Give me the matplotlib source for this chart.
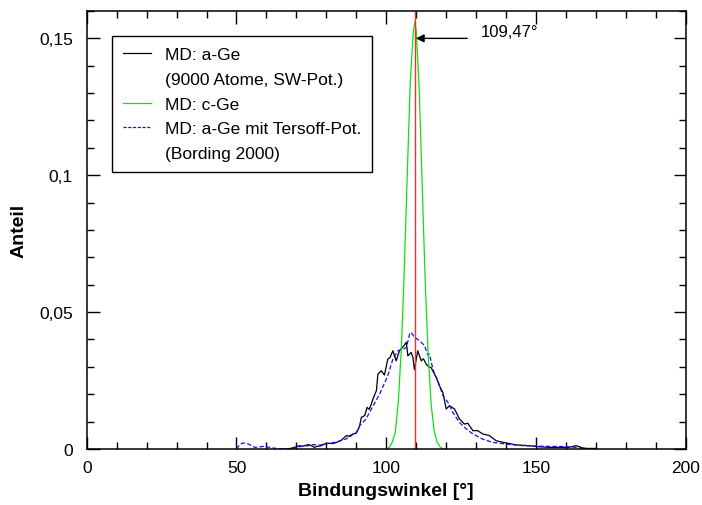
import matplotlib
matplotlib.use('Agg')
import matplotlib.pyplot as plt
from matplotlib.lines import Line2D
from matplotlib.ticker import FixedLocator, MultipleLocator

plt.rcParams['font.family'] = ['Liberation Sans', 'DejaVu Sans']

# bond angle distributions
age_x = [66, 68, 70, 71, 72, 74, 75, 76, 77, 78, 80, 82, 83, 85, 86.7, 88, 89, 90,
         91, 91.7, 92.8, 93.6, 94.3, 95, 95.8, 96.7, 97.2, 97.8, 98.3, 99.4, 100.5,
         101.3, 102.2, 103.3, 104.4, 105.9, 106.7, 107.2, 108.3, 108.9, 109.4, 110.5,
         111.1, 111.7, 112.4, 113.3, 114.2, 115, 116.7, 117.8, 118.9, 120, 121.1,
         122.8, 124.4, 126.1, 127.2, 128.9, 130.5, 132.2, 134.4, 136.7, 140, 143.3,
         147.8, 151, 154.4, 161, 163.3, 165.6, 167, 170]
age_y = [0, 0.0002, 0.0008, 0.0012, 0.0010, 0.0016, 0.0012, 0.0006, 0.0010, 0.0011,
         0.0021, 0.0020, 0.0022, 0.0032, 0.0049, 0.0046, 0.0055, 0.0058, 0.0080,
         0.0116, 0.0122, 0.0152, 0.0145, 0.0164, 0.0190, 0.0213, 0.0273, 0.0280,
         0.0286, 0.0270, 0.0328, 0.0335, 0.0359, 0.0322, 0.0359, 0.0377, 0.0390,
         0.0340, 0.0353, 0.0334, 0.0290, 0.0359, 0.0340, 0.0322, 0.0330, 0.0310,
         0.0300, 0.0297, 0.0260, 0.0230, 0.0206, 0.0146, 0.0158, 0.0146, 0.0110,
         0.0091, 0.0094, 0.0067, 0.0067, 0.0055, 0.0049, 0.0030, 0.0022, 0.0015,
         0.0012, 0.0008, 0.0006, 0.0006, 0.0012, 0.0004, 0.0002, 0.0002]

cge_x = [100, 101, 102, 103, 104, 105, 106, 107, 108, 109, 109.5, 110, 111, 112,
         113, 114, 115, 116, 117, 118, 119]
cge_y = [0, 0.0005, 0.0025, 0.006, 0.017, 0.036, 0.065, 0.100, 0.134, 0.152, 0.156,
         0.153, 0.131, 0.096, 0.061, 0.034, 0.016, 0.0065, 0.0024, 0.0007, 0]

tersoff_x = [50, 51, 52.2, 54, 56.1, 58, 59.4, 61, 63.3, 66, 69, 70, 72, 74, 75.5,
             77.8, 80, 83.3, 86.7, 87.8, 90, 91.1, 93.3, 94.4, 96, 97.8, 100.5, 102.2,
             103.9, 105.6, 106.7, 107.8, 108.3, 109.4, 111.1, 112.8, 113.9, 114.4,
             115.6, 117.2, 118.9, 120.6, 122.2, 124.4, 126.7, 128.9, 132.2, 135.6,
             140, 145.6, 152.2, 158.9, 164.4, 166]
tersoff_y = [0, 0.0015, 0.0022, 0.0018, 0.0006, 0.0008, 0.0010, 0.0006, 0.0002, 0,
             0.0002, 0.0006, 0.0010, 0.0012, 0.0016, 0.0014, 0.0019, 0.0025, 0.0037,
             0.0049, 0.0060, 0.0085, 0.0110, 0.0134, 0.0165, 0.0201, 0.0268, 0.0328,
             0.0359, 0.0365, 0.0370, 0.0420, 0.0426, 0.0408, 0.0396, 0.0377, 0.0343,
             0.0347, 0.0290, 0.0249, 0.0195, 0.0170, 0.0134, 0.0097, 0.0073, 0.0055,
             0.0036, 0.0024, 0.0018, 0.0012, 0.0010, 0.0009, 0.0005, 0]

tetra_angle = 109.47
x_ticks = [0, 50, 100, 150, 200]
y_ticks = [0, 0.05, 0.1, 0.15]
y_ticklabels = ['0', '0,05', '0,1', '0,15']

fig = plt.figure(figsize=(7.02, 5.06), dpi=100)
ax = fig.add_axes([0.1235, 0.1107, 0.8535, 0.8656])

ax.plot(age_x, age_y, color='black', lw=0.9)
ax.plot(tersoff_x, tersoff_y, color='#1010ff', lw=0.9, dashes=(3.5, 1.8))
ax.plot(cge_x, cge_y, color='#10e010', lw=0.9)
ax.axvline(tetra_angle, color='#ff2a2a', lw=1.0)

ax.annotate('', xy=(tetra_angle + 0.4, 0.15), xytext=(127, 0.15),
            arrowprops=dict(arrowstyle='-|>', color='black', lw=1.0,
                            mutation_scale=12, shrinkA=0, shrinkB=0))
ax.text(131.7, 0.1525, '109,47°', fontsize=12, va='center', ha='left')

ax.set_xlim(0, 200)
ax.set_ylim(0, 0.16)
ax.xaxis.set_major_locator(FixedLocator(x_ticks))
ax.xaxis.set_minor_locator(MultipleLocator(10))
ax.yaxis.set_major_locator(FixedLocator(y_ticks))
ax.yaxis.set_minor_locator(MultipleLocator(0.01))
ax.set_yticklabels(y_ticklabels)
ax.tick_params(which='both', direction='in', top=True, right=True,
               labelsize=12.5, width=1.0)
ax.tick_params(axis='y', pad=10)
ax.tick_params(axis='x', pad=8)
ax.tick_params(which='major', length=9)
ax.tick_params(which='minor', length=5)
for s in ax.spines.values():
    s.set_linewidth(1.1)

ax.set_xlabel('Bindungswinkel [°]', fontsize=14, fontweight='bold', labelpad=5)
ax.set_ylabel('Anteil', fontsize=14, fontweight='bold', labelpad=8)

handles = [
    Line2D([], [], color='black', lw=0.9),
    Line2D([], [], color='none'),
    Line2D([], [], color='#10e010', lw=0.9),
    Line2D([], [], color='#1010ff', lw=0.9, dashes=(2.5, 1.3)),
    Line2D([], [], color='none'),
]
labels = ['MD: a-Ge', '(9000 Atome, SW-Pot.)', 'MD: c-Ge',
          'MD: a-Ge mit Tersoff-Pot.', '(Bording 2000)']
leg = ax.legend(handles, labels, loc='upper left', bbox_to_anchor=(0.042, 0.943),
                borderaxespad=0, fancybox=False, framealpha=1, edgecolor='black',
                fontsize=12.5, handlelength=1.6, handletextpad=0.8, labelspacing=0.55,
                borderpad=0.65)
leg.get_frame().set_linewidth(1.0)

fig.savefig('out.png', dpi=100, facecolor='white')
